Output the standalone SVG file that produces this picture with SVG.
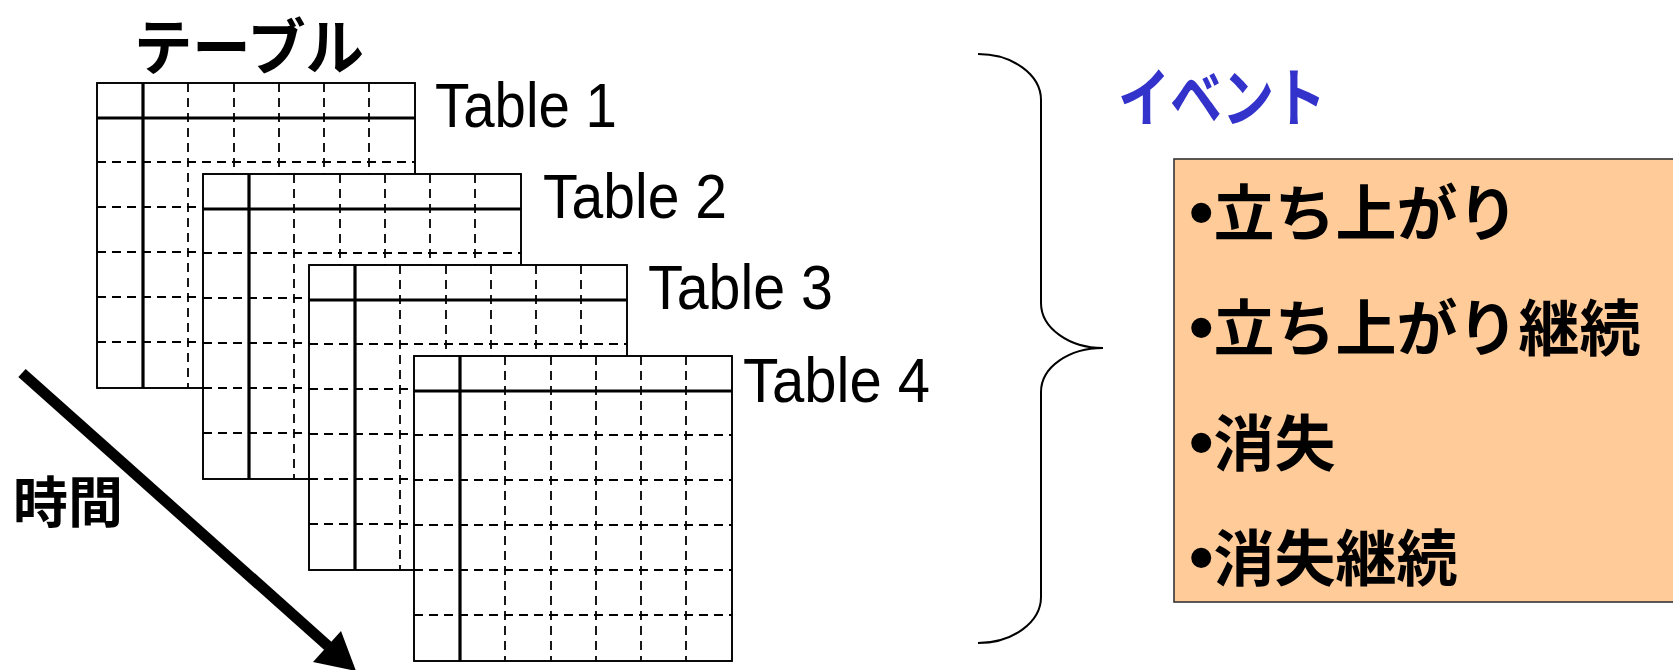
<svg xmlns="http://www.w3.org/2000/svg" xmlns:xlink="http://www.w3.org/1999/xlink" width="1673" height="670" viewBox="0 0 1673 670">
  <style>
    .jp { font-family: "Noto Sans CJK JP", "Noto Sans", sans-serif; }
    .title { font-size: 61px; font-weight: 700; fill: #000; }
    .time { font-size: 55px; font-weight: 700; fill: #000; }
    .event { font-size: 64px; font-weight: 700; fill: #3333cc; }
    .item { font-size: 61px; font-weight: 700; fill: #000; }
    .bullet { font-family: "Liberation Sans", Arial, sans-serif; font-size: 70px; }
    .tlabel { font-family: "Liberation Sans", Arial, sans-serif; font-size: 63px; fill: #000; }
    .dash { stroke: #000; stroke-width: 1.8; stroke-dasharray: 9 6; fill: none; }
    .thick { stroke: #000; stroke-width: 3.2; fill: none; }
    .frame { stroke: #000; stroke-width: 1.6; fill: #fff; }
  </style>
  <defs>
    <!-- one table sheet: header row, key column, dashed cells -->
    <g id="grid">
      <rect class="frame" x="0" y="0" width="318" height="305"/>
      <path class="dash" d="M91,0V305 M137,0V305 M182,0V305 M227,0V305 M272,0V305"/>
      <path class="dash" d="M0,79H318 M0,124H318 M0,169H318 M0,214H318 M0,259H318"/>
      <path class="thick" d="M0,35H318 M46,0V305"/>
      <rect x="0" y="0" width="318" height="305" fill="none" stroke="#000" stroke-width="1.6"/>
    </g>
  </defs>

  <rect width="1673" height="670" fill="#fff"/>

  <g id="title">
    <text class="jp title" x="134" y="70" textLength="230" lengthAdjust="spacingAndGlyphs">テーブル</text>
  </g>

  <g id="table1">
    <use xlink:href="#grid" x="97" y="83"/>
    <text class="tlabel" x="435" y="127" textLength="182" lengthAdjust="spacingAndGlyphs">Table 1</text>
  </g>
  <g id="table2">
    <use xlink:href="#grid" x="203" y="174"/>
    <text class="tlabel" x="543" y="218" textLength="184" lengthAdjust="spacingAndGlyphs">Table 2</text>
  </g>
  <g id="table3">
    <use xlink:href="#grid" x="309" y="265"/>
    <text class="tlabel" x="648" y="309" textLength="185" lengthAdjust="spacingAndGlyphs">Table 3</text>
  </g>
  <g id="table4">
    <use xlink:href="#grid" x="414" y="356"/>
    <text class="tlabel" x="743" y="402" textLength="187" lengthAdjust="spacingAndGlyphs">Table 4</text>
  </g>

  <g id="time">
    <text class="jp time" x="13" y="522">時間</text>
  </g>

  <g id="connectors">
    <!-- time axis arrow -->
    <line x1="22" y1="373" x2="328" y2="646" stroke="#000" stroke-width="11"/>
    <polygon points="356,671 313,662 341,631" fill="#000"/>
    <!-- grouping brace -->
    <path d="M978,54 C1013,54 1041,75 1041,100 L1041,303 C1041,328 1069,348 1103,348 C1069,348 1041,367 1041,392 L1041,597 C1041,622 1013,643 978,643" fill="none" stroke="#000" stroke-width="2"/>
  </g>

  <g id="event">
    <text class="jp event" x="1118" y="121" textLength="208" lengthAdjust="spacingAndGlyphs">イベント</text>
  </g>

  <g id="event-list">
    <rect x="1174" y="159" width="520" height="443" fill="#ffcc99" stroke="#333" stroke-width="1.6"/>
    <text class="jp item" x="1189" y="236"><tspan class="bullet">•</tspan>立ち上がり</text>
    <text class="jp item" x="1189" y="351"><tspan class="bullet">•</tspan>立ち上がり継続</text>
    <text class="jp item" x="1189" y="466"><tspan class="bullet">•</tspan>消失</text>
    <text class="jp item" x="1189" y="581"><tspan class="bullet">•</tspan>消失継続</text>
  </g>
</svg>
